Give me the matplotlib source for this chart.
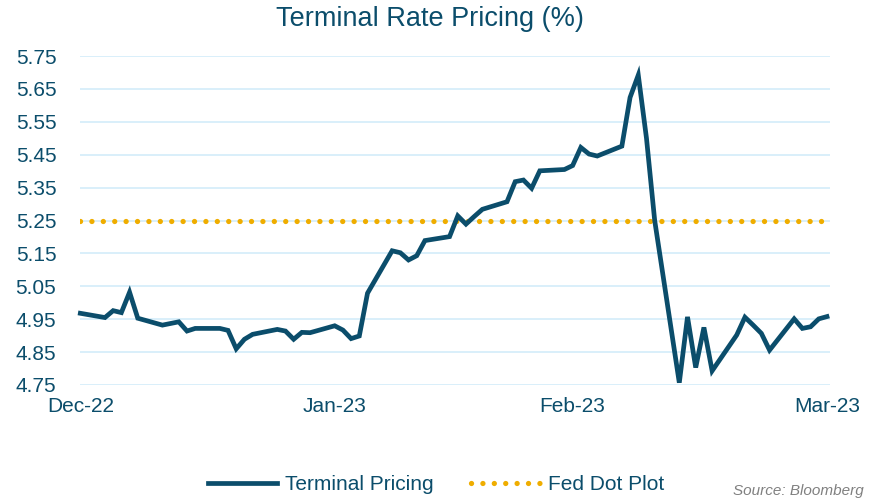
import matplotlib.pyplot as plt
import pandas as pd

plt.rcParams['font.family'] = ['Liberation Sans', 'DejaVu Sans']

# terminal rate pricing (trading days)
dates = ['2022-12-30', '2023-01-02', '2023-01-03', '2023-01-04', '2023-01-05', '2023-01-06',
         '2023-01-09', '2023-01-11', '2023-01-12', '2023-01-13', '2023-01-16', '2023-01-17',
         '2023-01-18', '2023-01-19', '2023-01-20', '2023-01-23', '2023-01-24', '2023-01-25',
         '2023-01-26', '2023-01-27', '2023-01-30', '2023-01-31', '2023-02-01', '2023-02-02',
         '2023-02-03', '2023-02-06', '2023-02-07', '2023-02-08', '2023-02-09', '2023-02-10',
         '2023-02-13', '2023-02-14', '2023-02-15', '2023-02-16', '2023-02-17', '2023-02-20',
         '2023-02-21', '2023-02-22', '2023-02-23', '2023-02-24', '2023-02-27', '2023-02-28',
         '2023-03-01', '2023-03-02', '2023-03-03', '2023-03-06', '2023-03-07', '2023-03-08',
         '2023-03-09', '2023-03-10', '2023-03-13', '2023-03-14', '2023-03-15', '2023-03-16',
         '2023-03-17', '2023-03-20', '2023-03-21', '2023-03-22', '2023-03-23', '2023-03-24',
         '2023-03-27', '2023-03-28', '2023-03-29', '2023-03-30', '2023-03-31']
terminal = [4.968, 4.955, 4.976, 4.970, 5.032, 4.953,
            4.932, 4.942, 4.914, 4.922, 4.922, 4.916,
            4.860, 4.889, 4.904, 4.919, 4.914, 4.889,
            4.910, 4.909, 4.930, 4.917, 4.891, 4.899,
            5.029, 5.158, 5.152, 5.130, 5.143, 5.189,
            5.201, 5.264, 5.239, 5.262, 5.284, 5.307,
            5.368, 5.373, 5.348, 5.401, 5.405, 5.417,
            5.472, 5.452, 5.446, 5.476, 5.624, 5.692,
            5.500, 5.250, 4.757, 4.957, 4.803, 4.925,
            4.793, 4.902, 4.956, 4.932, 4.907, 4.856,
            4.951, 4.922, 4.927, 4.951, 4.958]
fed_dot = 5.25

tick_dates = ['2022-12-30', '2023-01-30', '2023-02-28', '2023-03-31']
tick_labels = ['Dec-22', 'Jan-23', 'Feb-23', 'Mar-23']
y_ticks = [4.75, 4.85, 4.95, 5.05, 5.15, 5.25, 5.35, 5.45, 5.55, 5.65, 5.75]

navy = '#0b4d6b'
gold = '#efad00'

x = pd.to_datetime(dates)

fig = plt.figure(figsize=(8.81, 5.0), dpi=100)
ax = fig.add_axes([0.0908, 0.23, 0.851, 0.658])

ax.plot(x, terminal, color=navy, lw=3.4, solid_joinstyle='miter', clip_on=False,
        label='Terminal Pricing', zorder=3)
ax.plot(x, [fed_dot] * len(x), color=gold, lw=3.8, linestyle=(0, (0.01, 2.15)),
        dash_capstyle='round', label='Fed Dot Plot', zorder=2)

ax.set_ylim(4.75, 5.75)
ax.set_yticks(y_ticks)
ax.set_yticklabels([f'{v:.2f}' for v in y_ticks])
ax.set_xlim(x[0] - pd.Timedelta(hours=1), x[-1] + pd.Timedelta(hours=8))
ax.set_xticks(pd.to_datetime(tick_dates))
ax.set_xticklabels(tick_labels)

ax.grid(axis='y', color='#d3ecfa', lw=1.2)
ax.set_axisbelow(True)
for s in ax.spines.values():
    s.set_visible(False)
ax.tick_params(length=0, labelsize=15, labelcolor=navy)
ax.tick_params(axis='y', pad=17)
ax.tick_params(axis='x', pad=9)

fig.text(0.488, 0.963, 'Terminal Rate Pricing (%)', ha='center', va='center',
         fontsize=19.5, color=navy)

fig.legend(loc='center', bbox_to_anchor=(0.495, 0.03), ncol=2, frameon=False,
           fontsize=15, labelcolor=navy, handlelength=3.3, columnspacing=1.8,
           handletextpad=0.4)

fig.text(0.98, 0.003, 'Source: Bloomberg', ha='right', va='bottom', fontsize=11,
         style='italic', color='#808080')

fig.savefig('out.png', dpi=100)
